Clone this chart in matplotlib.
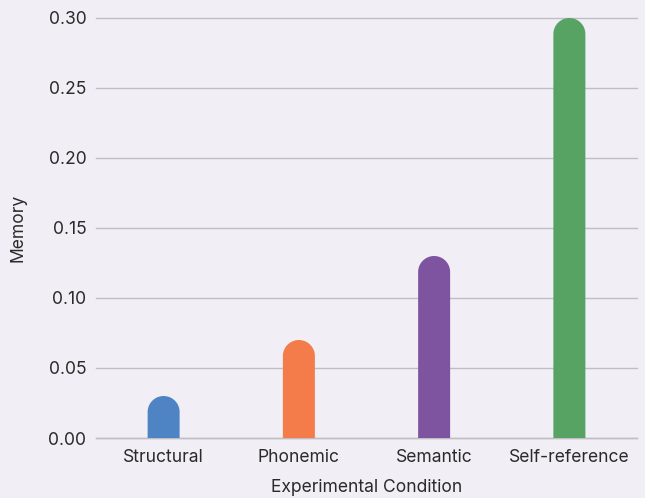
import matplotlib.pyplot as plt
from matplotlib.patches import Polygon
import numpy as np

conditions = ["Structural", "Phonemic", "Semantic", "Self-reference"]
memory = [0.03, 0.07, 0.13, 0.30]
colors = ["#4f84c4", "#f47b4a", "#7e54a0", "#56a364"]

plt.rcParams["font.family"] = ["Inter", "DejaVu Sans"]

bg = "#f1eff5"
fig = plt.figure(figsize=(6.45, 4.98), dpi=100, facecolor=bg)
ax = fig.add_axes([96 / 645, 60 / 498, 541 / 645, 420 / 498], facecolor=bg)

x = np.arange(len(conditions))
ax.set_xlim(-0.5, len(conditions) - 0.5)
ax.set_ylim(0, 0.30)

# bar width in data units from ~32 px, round top radius in y units
bw = 32 / 541 * 4
ry = 16 / 420 * 0.30

t = np.linspace(0, np.pi, 40)
for xi, m, c in zip(x, memory, colors):
    top = m - ry
    arc = np.column_stack([xi + bw / 2 * np.cos(t), top + ry * np.sin(t)])
    pts = np.vstack([[xi + bw / 2, 0], arc, [xi - bw / 2, 0]])
    ax.add_patch(Polygon(pts, closed=True, facecolor=c, edgecolor="none", zorder=3))

ax.set_yticks([0, 0.05, 0.10, 0.15, 0.20, 0.25, 0.30])
ax.set_yticklabels(["0.00", "0.05", "0.10", "0.15", "0.20", "0.25", "0.30"])
ax.set_xticks(x)
ax.set_xticklabels(conditions)
ax.grid(axis="y", color="#bfbec2", lw=1.0, zorder=0)
for gl in ax.get_ygridlines():
    gl.set_clip_on(False)

for s in ["top", "right", "left"]:
    ax.spines[s].set_visible(False)
ax.spines["bottom"].set_color("#bfbec2")
ax.spines["bottom"].set_linewidth(1.0)
ax.tick_params(axis="both", length=0, labelsize=12.6, colors="#2a2a2a")
ax.tick_params(axis="y", pad=7)
ax.tick_params(axis="x", pad=8)

ax.set_xlabel("Experimental Condition", fontsize=12.6, color="#2a2a2a", labelpad=9)
ax.set_ylabel("Memory", fontsize=12.6, color="#2a2a2a", labelpad=16)

fig.savefig("out.png", dpi=100, facecolor=bg)
